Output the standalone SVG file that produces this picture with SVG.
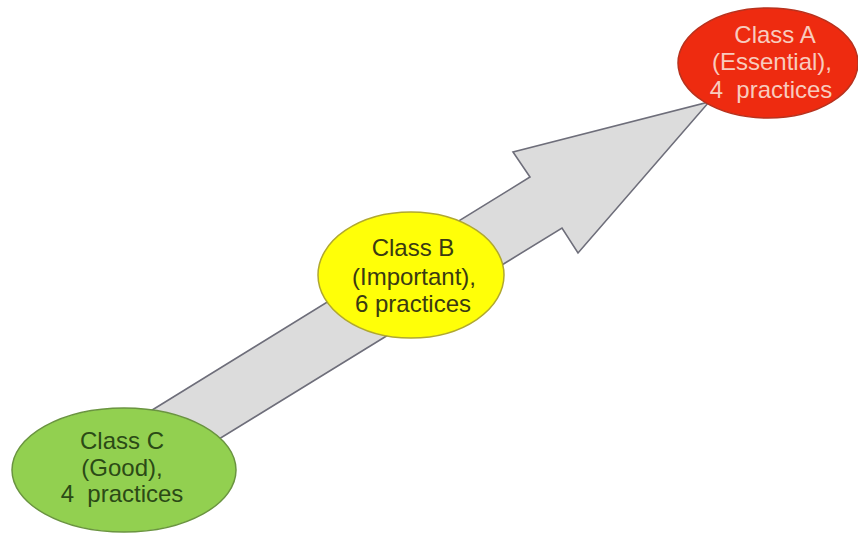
<svg xmlns="http://www.w3.org/2000/svg" width="858" height="533" viewBox="0 0 858 533">
<style>
text{font-family:"Liberation Sans",Arial,sans-serif;font-size:24px;text-anchor:middle}
.arrow{fill:#dcdcdc;stroke:#6e6e7a;stroke-width:1.6;stroke-linejoin:miter}
.a{fill:#ee2b10;stroke:#b8321e;stroke-width:1.5}
.b{fill:#ffff08;stroke:#b0a830;stroke-width:1.5}
.c{fill:#92d050;stroke:#6a9440;stroke-width:1.5}
.ta{fill:#f8cbbe}
.tb{fill:#3a3a12}
.tc{fill:#2b4a16}
</style>
<rect width="858" height="533" fill="#ffffff"/>
<g id="connectors">
<polygon class="arrow" points="123,428 530,177 513,152 709,102 578,253 562,228 154,479"/>
</g>
<g id="classC">
<ellipse class="c" cx="124" cy="470" rx="112" ry="62"/>
<text class="tc" x="122" y="449">Class C</text>
<text class="tc" x="122" y="476">(Good),</text>
<text class="tc" x="122" y="502" xml:space="preserve">4  practices</text>
</g>
<g id="classB">
<ellipse class="b" cx="411" cy="275" rx="93" ry="63"/>
<text class="tb" x="413" y="256">Class B</text>
<text class="tb" x="414" y="285">(Important),</text>
<text class="tb" x="413" y="312">6 practices</text>
</g>
<g id="classA">
<ellipse class="a" cx="768" cy="63" rx="90" ry="55"/>
<text class="ta" x="775" y="43">Class A</text>
<text class="ta" x="772" y="70">(Essential),</text>
<text class="ta" x="771" y="98" xml:space="preserve">4  practices</text>
</g>
</svg>
